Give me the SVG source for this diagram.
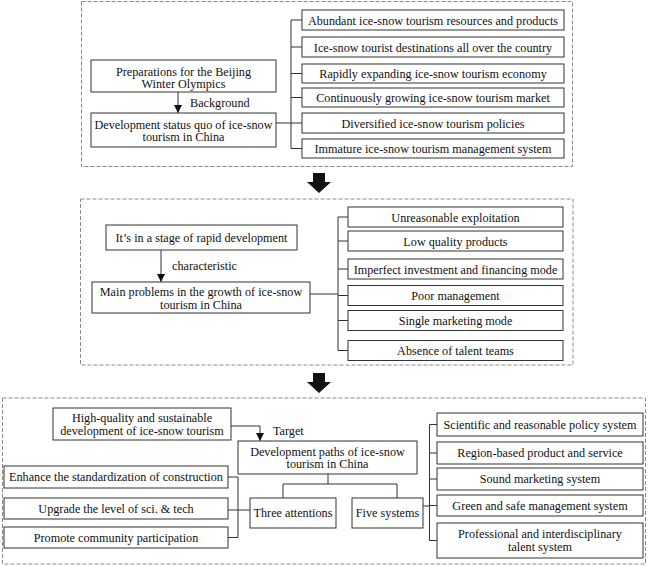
<svg xmlns="http://www.w3.org/2000/svg" width="650" height="566" viewBox="0 0 650 566">
<style>
.sec{fill:none;stroke:#8a8a8a;stroke-width:1;stroke-dasharray:4 2}
.box{fill:#fff;stroke:#333;stroke-width:1}
.ln{fill:none;stroke:#333;stroke-width:1}
text{font-family:"Liberation Serif","Times New Roman",serif;font-size:12.2px;fill:#111;text-anchor:middle}
.lab{text-anchor:start}
</style>
<defs>
<marker id="ah" viewBox="0 0 8 8" refX="8" refY="4" markerWidth="8" markerHeight="8" markerUnits="userSpaceOnUse" orient="auto">
<path d="M0,0 L8,4 L0,8 Z" fill="#111"/>
</marker>
</defs>
<rect fill="#fff" x="0" y="0" width="650" height="566"/>
<!-- sections -->
<rect class="sec" x="81.5" y="1.5" width="491" height="165"/>
<rect class="sec" x="80.5" y="199" width="492.5" height="166"/>
<rect class="sec" x="2.5" y="398" width="643" height="166"/>
<!-- big arrows -->
<path d="M313,173 H325 V182 H331 L319,193 L307,182 H313 Z" fill="#111"/>
<path d="M313,373 H325 V382 H331 L319,393 L307,382 H313 Z" fill="#111"/>
<g id="connectors">
<!-- section 1 -->
<path class="ln" d="M291,20 V148.5 M291,20 H302 M291,47 H302 M291,73.5 H302 M291,97.5 H302 M291,123 H302 M291,148.5 H302 M276,123 H291"/>
<path class="ln" d="M178,92 V113" marker-end="url(#ah)"/>
<!-- section 2 -->
<path class="ln" d="M338,217 V350.5 M338,217 H348 M338,241 H348 M338,269 H348 M338,295.5 H348 M338,320.5 H348 M338,350.5 H348 M310,294 H338"/>
<path class="ln" d="M161,250 V282" marker-end="url(#ah)"/>
<!-- section 3 -->
<path class="ln" d="M231,426 H260 V441" marker-end="url(#ah)"/>
<path class="ln" d="M328,474 V484 M283,484 H397 M283,484 V498 M397,484 V498"/>
<path class="ln" d="M238,477 V537.5 M228,477 H238 M228,537.5 H238 M228,510 H250"/>
<path class="ln" d="M429.5,424.5 V540.5 M429.5,424.5 H437 M429.5,453 H437 M429.5,479 H437 M429.5,505.5 H437 M429.5,540.5 H437 M423,506 H429.5"/>
</g>
<!-- Section 1 nodes -->
<g id="prep"><rect class="box" x="91" y="60" width="185" height="32"/><text x="183.5" y="75.5">Preparations for the Beijing</text><text x="183.5" y="88">Winter Olympics</text></g>
<g id="status"><rect class="box" x="91" y="113" width="185" height="34"/><text x="183.5" y="128.5">Development status quo of ice-snow</text><text x="183.5" y="141">tourism in China</text></g>
<text class="lab" x="190" y="107">Background</text>
<g id="s1a"><rect class="box" x="302" y="10" width="262" height="20"/><text x="433" y="24.5">Abundant ice-snow tourism resources and products</text></g>
<g id="s1b"><rect class="box" x="302" y="37" width="262" height="20"/><text x="433" y="51.5">Ice-snow tourist destinations all over the country</text></g>
<g id="s1c"><rect class="box" x="302" y="64" width="262" height="19"/><text x="433" y="78">Rapidly expanding ice-snow tourism economy</text></g>
<g id="s1d"><rect class="box" x="302" y="88" width="262" height="19"/><text x="433" y="102">Continuously growing ice-snow tourism market</text></g>
<g id="s1e"><rect class="box" x="302" y="113" width="262" height="20"/><text x="433" y="127.5">Diversified ice-snow tourism policies</text></g>
<g id="s1f"><rect class="box" x="302" y="139" width="262" height="19"/><text x="433" y="153">Immature ice-snow tourism management system</text></g>
<!-- Section 2 nodes -->
<g id="stage"><rect class="box" x="106" y="225" width="191" height="25"/><text x="201.5" y="242">It’s in a stage of rapid development</text></g>
<g id="problems"><rect class="box" x="92" y="282" width="218" height="31"/><text x="201" y="296">Main problems in the growth of ice-snow</text><text x="201" y="308.5">tourism in China</text></g>
<text class="lab" x="172" y="269.5">characteristic</text>
<g id="s2a"><rect class="box" x="348" y="207" width="215" height="20"/><text x="455.5" y="221.5">Unreasonable exploitation</text></g>
<g id="s2b"><rect class="box" x="348" y="231" width="215" height="20"/><text x="455.5" y="245.5">Low quality products</text></g>
<g id="s2c"><rect class="box" x="348" y="259" width="215" height="20"/><text x="455.5" y="273.5">Imperfect investment and financing mode</text></g>
<g id="s2d"><rect class="box" x="348" y="285.5" width="215" height="20"/><text x="455.5" y="300">Poor management</text></g>
<g id="s2e"><rect class="box" x="348" y="310.5" width="215" height="20"/><text x="455.5" y="325">Single marketing mode</text></g>
<g id="s2f"><rect class="box" x="348" y="340.5" width="215" height="20"/><text x="455.5" y="355">Absence of talent teams</text></g>
<!-- Section 3 nodes -->
<g id="target"><rect class="box" x="53" y="408" width="178" height="32"/><text x="142" y="422">High-quality and sustainable</text><text x="142" y="434.5">development of ice-snow tourism</text></g>
<text class="lab" x="273" y="434.5">Target</text>
<g id="paths"><rect class="box" x="238" y="441" width="179" height="33"/><text x="327.5" y="455.5">Development paths of ice-snow</text><text x="327.5" y="468">tourism in China</text></g>
<g id="three"><rect class="box" x="250" y="498" width="86" height="30"/><text x="293" y="517">Three attentions</text></g>
<g id="five"><rect class="box" x="352" y="498" width="71" height="30"/><text x="387.5" y="517">Five systems</text></g>
<g id="l1"><rect class="box" x="4" y="466" width="224" height="22"/><text x="116" y="481">Enhance the standardization of construction</text></g>
<g id="l2"><rect class="box" x="4" y="498" width="224" height="21"/><text x="116" y="513">Upgrade the level of sci. &amp; tech</text></g>
<g id="l3"><rect class="box" x="4" y="527" width="224" height="21"/><text x="116" y="542">Promote community participation</text></g>
<g id="r1"><rect class="box" x="437" y="413" width="206" height="23"/><text x="540" y="428.5">Scientific and reasonable policy system</text></g>
<g id="r2"><rect class="box" x="437" y="442" width="206" height="22"/><text x="540" y="457">Region-based product and service</text></g>
<g id="r3"><rect class="box" x="437" y="468" width="206" height="22"/><text x="540" y="483">Sound marketing system</text></g>
<g id="r4"><rect class="box" x="437" y="495" width="206" height="21"/><text x="540" y="509.5">Green and safe management system</text></g>
<g id="r5"><rect class="box" x="437" y="523" width="206" height="35"/><text x="540" y="538">Professional and interdisciplinary</text><text x="540" y="551">talent system</text></g>
</svg>
